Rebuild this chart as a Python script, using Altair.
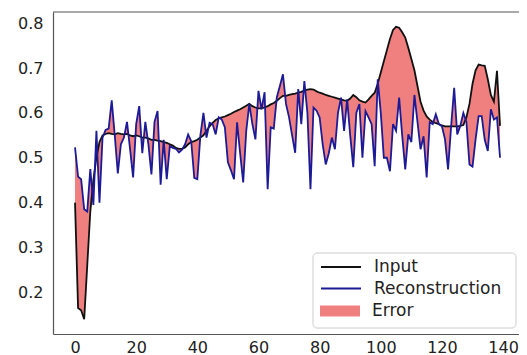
import altair as alt
import pandas as pd

# ---- data ----
steps = list(range(140))

input_vals = [
    0.400, 0.165, 0.160, 0.140, 0.260, 0.380, 0.450, 0.500, 0.535, 0.550,
    0.553, 0.555, 0.553, 0.552, 0.555, 0.553, 0.552, 0.553, 0.550, 0.548,
    0.550, 0.548, 0.545, 0.545, 0.543, 0.540, 0.540, 0.538, 0.537, 0.535,
    0.533, 0.530, 0.527, 0.522, 0.520, 0.520, 0.523, 0.530, 0.535, 0.537,
    0.540, 0.545, 0.550, 0.560, 0.570, 0.578, 0.584, 0.588, 0.590, 0.592,
    0.595, 0.598, 0.602, 0.605, 0.608, 0.612, 0.616, 0.620, 0.615, 0.612,
    0.610, 0.610, 0.612, 0.615, 0.619, 0.622, 0.627, 0.633, 0.638, 0.638,
    0.640, 0.642, 0.643, 0.645, 0.647, 0.650, 0.652, 0.653, 0.652, 0.648,
    0.645, 0.643, 0.640, 0.638, 0.636, 0.634, 0.632, 0.630, 0.628, 0.627,
    0.632, 0.640, 0.635, 0.628, 0.625, 0.623, 0.630, 0.638, 0.645, 0.665,
    0.690, 0.715, 0.740, 0.765, 0.785, 0.792, 0.790, 0.780, 0.768, 0.745,
    0.720, 0.695, 0.660, 0.625, 0.605, 0.592, 0.585, 0.580, 0.577, 0.575,
    0.572, 0.570, 0.570, 0.570, 0.570, 0.570, 0.571, 0.573, 0.590, 0.620,
    0.665, 0.695, 0.708, 0.706, 0.705, 0.675, 0.640, 0.625, 0.694, 0.571,
]

recon_vals = [
    0.523, 0.458, 0.452, 0.385, 0.380, 0.475, 0.395, 0.560, 0.400, 0.545,
    0.562, 0.565, 0.628, 0.550, 0.465, 0.530, 0.545, 0.580, 0.520, 0.456,
    0.575, 0.615, 0.510, 0.580, 0.530, 0.463, 0.580, 0.604, 0.440, 0.540,
    0.452, 0.526, 0.522, 0.520, 0.512, 0.518, 0.530, 0.552, 0.537, 0.455,
    0.452, 0.550, 0.600, 0.545, 0.578, 0.575, 0.552, 0.590, 0.585, 0.568,
    0.490, 0.472, 0.452, 0.579, 0.510, 0.445, 0.560, 0.620, 0.575, 0.541,
    0.649, 0.608, 0.646, 0.430, 0.568, 0.565, 0.635, 0.660, 0.686, 0.620,
    0.590, 0.550, 0.511, 0.653, 0.575, 0.671, 0.600, 0.430, 0.612, 0.605,
    0.590, 0.530, 0.485, 0.510, 0.545, 0.519, 0.600, 0.634, 0.560, 0.630,
    0.550, 0.479, 0.600, 0.620, 0.500, 0.604, 0.590, 0.575, 0.481, 0.675,
    0.600, 0.500, 0.500, 0.470, 0.575, 0.560, 0.634, 0.550, 0.474, 0.552,
    0.535, 0.640, 0.580, 0.519, 0.548, 0.456, 0.579, 0.575, 0.597, 0.575,
    0.570, 0.541, 0.474, 0.570, 0.656, 0.552, 0.571, 0.600, 0.580, 0.485,
    0.480, 0.541, 0.593, 0.593, 0.540, 0.515, 0.608, 0.585, 0.590, 0.500,
]

line_labels = ["Input", "Reconstruction"]
area_labels = ["Error"]
x_ticks = [0, 20, 40, 60, 80, 100, 120, 140]
y_ticks = [0.2, 0.3, 0.4, 0.5, 0.6, 0.7, 0.8]

# ---- styling ----
FONT = "DejaVu Sans"
INPUT_COLOR = "#111111"
RECON_COLOR = "#1c1a96"
ERROR_COLOR = "#f08080"
FRAME = "#555555"
W, H = 466, 322

df = pd.DataFrame({"t": steps, "Input": input_vals, "Reconstruction": recon_vals})

x_scale = alt.Scale(domain=[-7.2, 145.2], nice=False, zero=False)
y_scale = alt.Scale(domain=[0.107, 0.825], nice=False, zero=False)

x_axis = alt.Axis(values=x_ticks, title=None, grid=False, ticks=False, domain=True,
                  domainColor=FRAME, domainWidth=1.2,
                  labelFont=FONT, labelFontSize=16, labelColor="#222222", labelPadding=5)
y_axis = alt.Axis(values=y_ticks, title=None, grid=False, ticks=False, domain=True,
                  domainColor=FRAME, domainWidth=1.2,
                  format=".1f", labelFont=FONT, labelFontSize=16, labelColor="#222222",
                  labelPadding=10)

common_legend = dict(orient="none", title=None, direction="vertical", padding=5,
                     symbolSize=400, labelFont=FONT, labelFontSize=17,
                     labelColor="#222222", labelOffset=34, rowPadding=2.5)

line_legend = alt.Legend(legendX=260, legendY=239, symbolType="M-0.8,0H3.2",
                         symbolStrokeWidth=2, **common_legend)
area_legend = alt.Legend(legendX=260, legendY=284,
                         symbolType="M-0.8,-0.55H3.2V0.55H-0.8Z",
                         symbolStrokeWidth=0, **common_legend)

legend_box = alt.Chart(alt.Data(values=[{"box": 1}])).mark_rect(
    fill="white", fillOpacity=0.85, stroke="#cccccc", strokeWidth=1, cornerRadius=4
).encode(
    x=alt.value(260), x2=alt.value(463), y=alt.value(241), y2=alt.value(316)
)

top_frame = alt.Chart(alt.Data(values=[{"edge": 1}])).mark_rule(
    stroke=FRAME, strokeWidth=1.2
).encode(x=alt.value(0), x2=alt.value(W), y=alt.value(0))

area = alt.Chart(df).transform_calculate(series="'Error'").mark_area(
    interpolate="linear", opacity=1
).encode(
    x=alt.X("t:Q", scale=x_scale, axis=x_axis),
    y=alt.Y("Input:Q", scale=y_scale, axis=y_axis),
    y2="Reconstruction:Q",
    fill=alt.Fill("series:N", scale=alt.Scale(domain=area_labels, range=[ERROR_COLOR]),
                  legend=area_legend),
)

lines = alt.Chart(df).transform_fold(
    ["Input", "Reconstruction"], as_=["series", "value"]
).mark_line(strokeWidth=1.8, interpolate="linear").encode(
    x=alt.X("t:Q", scale=x_scale, axis=x_axis),
    y=alt.Y("value:Q", scale=y_scale, axis=y_axis),
    stroke=alt.Stroke("series:N",
                      scale=alt.Scale(domain=line_labels, range=[INPUT_COLOR, RECON_COLOR]),
                      legend=line_legend),
)

chart = alt.layer(area, lines, legend_box, top_frame).properties(
    width=W, height=H,
    autosize=alt.AutoSizeParams(type="none"),
    padding={"left": 45, "top": 4, "right": 0, "bottom": 21},
    background="white",
).configure_view(stroke=None)

chart.save("out.html", embed_options={"renderer": "svg", "actions": False})
